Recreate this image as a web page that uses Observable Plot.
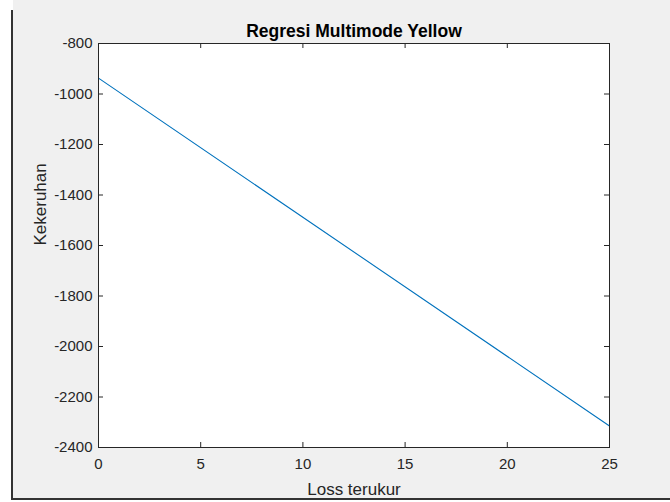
<!DOCTYPE html>
<html>
<head>
<meta charset="utf-8">
<script src="https://cdn.jsdelivr.net/npm/d3@7"></script>
<script src="https://cdn.jsdelivr.net/npm/@observablehq/plot@0.6"></script>
<style>
  html, body { margin: 0; padding: 0; background: #fff; }
  #wrap { position: relative; width: 670px; height: 502px; background: #fff; overflow: hidden; }
  #bg { position: absolute; left: 13px; top: 0; width: 657px; height: 498px; background: #f0f0f0; }
  #edge { position: absolute; left: 11px; top: 10px; width: 659px; height: 488px; border-left: 2px solid #333; border-bottom: 2px solid #333; }
  #chart { position: absolute; left: 0; top: 0; }
</style>
</head>
<body>
<div id="wrap">
  <div id="bg"></div>
  <div id="edge"></div>
  <div id="chart"></div>
</div>
<script>
// Data
const lossTerukur = [0, 25];
const kekeruhan = [-937, -2315];
const xTicks = [0, 5, 10, 15, 20, 25];
const yTicks = [-800, -1000, -1200, -1400, -1600, -1800, -2000, -2200, -2400];
const titleText = "Regresi Multimode Yellow";
const xLabel = "Loss terukur";
const yLabel = "Kekeruhan";

const data = lossTerukur.map((x, i) => ({x, y: kekeruhan[i]}));

const W = 670, H = 502;
const mL = 98, mR = 61, mT = 43, mB = 55;
const fw = W - mL - mR, fh = H - mT - mB;
const axisColor = "#262626";

const chart = Plot.plot({
  width: W,
  height: H,
  marginLeft: mL,
  marginRight: mR,
  marginTop: mT,
  marginBottom: mB,
  style: {background: "transparent", fontFamily: "'Liberation Sans', Arial, sans-serif", fontSize: "15px", color: axisColor},
  x: {domain: [0, 25]},
  y: {domain: [-2400, -800]},
  marks: [
    Plot.frame({fill: "white", stroke: null}),
    Plot.line(data, {x: "x", y: "y", stroke: "#0072BD", strokeWidth: 1.1}),
    Plot.tickX(xTicks, {x: d => d, insetTop: fh - 5, stroke: axisColor}),
    Plot.tickX(xTicks, {x: d => d, insetBottom: fh - 5, stroke: axisColor}),
    Plot.tickY(yTicks, {y: d => d, insetRight: fw - 5, stroke: axisColor}),
    Plot.tickY(yTicks, {y: d => d, insetLeft: fw - 5, stroke: axisColor}),
    Plot.frame({stroke: axisColor, strokeWidth: 1}),
    Plot.axisX({ticks: xTicks, tickSize: 0, tickPadding: 11, label: null, tickFormat: d => String(d), fontSize: 15}),
    Plot.axisY({ticks: yTicks, tickSize: 0, tickPadding: 6, label: null, tickFormat: d => String(d), fontSize: 15}),
    Plot.text([titleText], {frameAnchor: "top", dy: -7, lineAnchor: "bottom", fontWeight: "bold", fontSize: 17.5, fill: "#000"}),
    Plot.text([xLabel], {frameAnchor: "bottom", dy: 47, lineAnchor: "bottom", fontSize: 17, fill: axisColor}),
    Plot.text([yLabel], {frameAnchor: "left", dx: -53, rotate: -90, lineAnchor: "bottom", fontSize: 17, fill: axisColor})
  ]
});
document.getElementById("chart").appendChild(chart);
</script>
</body>
</html>
